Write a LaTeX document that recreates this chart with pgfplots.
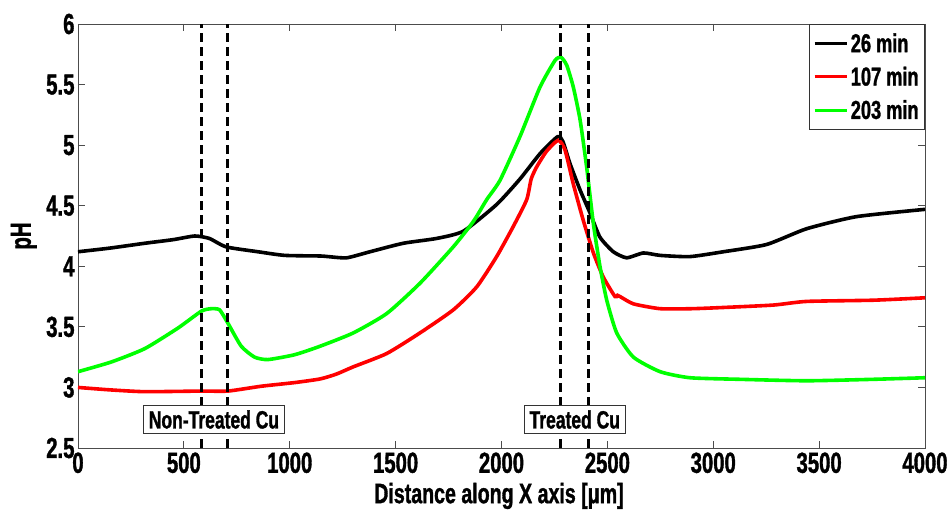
\documentclass[border=0pt]{standalone}
\usepackage{pgfplots}
\pgfplotsset{compat=1.18}
\usepackage{fontspec}
\setmainfont{Liberation Sans}[FakeStretch=0.7, FakeBold=1.2]
\begin{document}
\begin{tikzpicture}
\begin{axis}[
  name=ax,
  scale only axis,
  width=847pt, height=424pt,
  xmin=0, xmax=4000, ymin=2.5, ymax=6,
  xtick={0,500,...,4000},
  ytick={2.5,3,3.5,4,4.5,5,5.5,6},
  /pgf/number format/1000 sep={},
  /pgf/number format/assume math mode=true,
  tick align=inside,
  major tick length=7pt,
  axis line style={draw=black!70, line width=0.9pt},
  every tick/.style={black!70, line width=0.8pt},
  ticklabel style={font=\fontsize{29}{30}\selectfont\bfseries},
  yticklabel style={xshift=0pt},
  xticklabel style={yshift=-1pt},
  xlabel={Distance along X axis [μm]},
  ylabel={pH},
  xlabel style={font=\fontsize{28}{29}\selectfont\bfseries, at={(axis description cs:0.497,-0.13)}, anchor=base},
  ylabel style={font=\fontsize{29}{30}\selectfont\bfseries, at={(axis description cs:-0.064,0.5)}, anchor=center},
  legend style={at={(1,1)}, anchor=north east, draw=black!80, line width=0.8pt,
    font=\fontsize{26}{27}\selectfont\bfseries, row sep=9pt, inner xsep=4pt, inner ysep=7pt},
  legend cell align=left,
  legend image post style={line width=3pt},
  legend image code/.code={\draw[#1] (0cm,0cm) -- (1.15cm,0cm);},
]
\addplot[black, line width=3.6pt, smooth, tension=0.35] coordinates {
(0,4.12) (150,4.15) (315,4.19) (450,4.22) (551,4.25) (620,4.23) (700,4.16) (850,4.12)
(976,4.09) (1143,4.085) (1181,4.08) (1269,4.07) (1379,4.12) (1536,4.19) (1694,4.23)
(1820,4.29) (1977,4.51) (2087,4.72) (2182,4.93) (2265,5.07) (2290,5.03) (2323,4.85)
(2371,4.63) (2418,4.44) (2465,4.24) (2528,4.12) (2591,4.07) (2670,4.11) (2749,4.09)
(2890,4.08) (3048,4.12) (3252,4.18) (3441,4.31) (3677,4.41) (4000,4.47)};
\addlegendentry{26 min}
\addplot[red, line width=3.6pt, smooth, tension=0.35] coordinates {
(0,3.00) (150,2.98) (315,2.965) (583,2.97) (708,2.97) (866,3.01) (1023,3.04) (1143,3.07)
(1220,3.11) (1300,3.17) (1458,3.28) (1615,3.45) (1772,3.64) (1883,3.83) (1977,4.08) (2056,4.33)
(2119,4.55) (2140,4.72) (2166,4.82) (2213,4.95) (2268,5.04) (2300,4.96) (2339,4.68)
(2386,4.38) (2434,4.11) (2481,3.91) (2536,3.75) (2548,3.76) (2560,3.75) (2623,3.69)
(2749,3.65) (2900,3.65) (3048,3.66) (3284,3.68) (3441,3.71) (3756,3.72) (4000,3.74)};
\addlegendentry{107 min}
\addplot[green, line width=3.6pt, smooth, tension=0.35] coordinates {
(0,3.13) (157,3.21) (315,3.32) (472,3.49) (583,3.63) (630,3.65) (669,3.64) (708,3.53)
(771,3.34) (834,3.25) (897,3.23) (1023,3.27) (1143,3.34) (1300,3.45) (1458,3.61)
(1615,3.86) (1772,4.16) (1867,4.37) (1930,4.55) (1993,4.71) (2087,5.07) (2182,5.48)
(2253,5.70) (2281,5.725) (2308,5.66) (2339,5.48) (2371,5.21) (2402,4.82) (2434,4.35)
(2465,4.0) (2497,3.72) (2544,3.45) (2623,3.25) (2749,3.13) (2890,3.08) (3126,3.067)
(3441,3.055) (3756,3.067) (4000,3.08)};
\addlegendentry{203 min}
\addplot[black, line width=3pt, dash pattern=on 9pt off 5pt, forget plot] coordinates {(585,2.5) (585,6)};
\addplot[black, line width=3pt, dash pattern=on 9pt off 5pt, forget plot] coordinates {(708,2.5) (708,6)};
\addplot[black, line width=3pt, dash pattern=on 9pt off 5pt, forget plot] coordinates {(2280,2.5) (2280,6)};
\addplot[black, line width=3pt, dash pattern=on 9pt off 5pt, forget plot] coordinates {(2413,2.5) (2413,6)};
\node[draw=black!80, fill=white, line width=0.8pt, font=\fontsize{25}{26}\selectfont\bfseries, inner xsep=5pt, inner ysep=5pt] at (axis cs:642,2.735) {Non-Treated Cu};
\node[draw=black!80, fill=white, line width=0.8pt, font=\fontsize{25}{26}\selectfont\bfseries, inner xsep=5pt, inner ysep=5pt] at (axis cs:2346,2.735) {Treated Cu};
\end{axis}
\pgfresetboundingbox
\path (ax.south west) ++(-78pt,-61pt) coordinate (bbA);
\path (ax.north east) ++(26pt,24pt) coordinate (bbB);
\useasboundingbox (bbA) rectangle (bbB);
\end{tikzpicture}
\end{document}
